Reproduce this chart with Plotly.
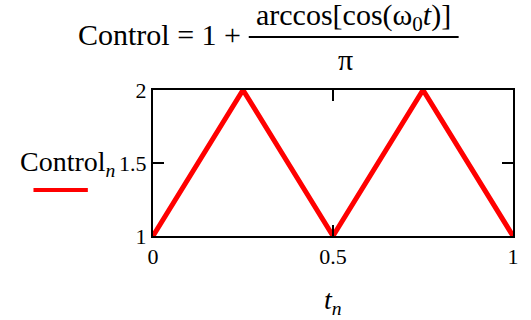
import plotly.graph_objects as go

# valores (onda triangular)
t_n = [0, 0.25, 0.5, 0.75, 1]
control_n = [1, 2, 1, 2, 1]

x_ticks = [0, 0.5, 1]
x_ticklabels = ["0", "0.5", "1"]
y_ticks = [1, 1.5, 2]
y_ticklabels = ["1", "1.5", "2"]

SERIF = "Liberation Serif"

fig = go.Figure()
fig.add_trace(go.Scatter(x=t_n, y=control_n, mode="lines",
                         line=dict(color="#ff0000", width=5),
                         showlegend=False, hoverinfo="skip"))

fig.update_layout(
    width=531, height=320,
    margin=dict(l=153, r=14, t=90, b=84),
    paper_bgcolor="white", plot_bgcolor="white",
    font=dict(family=SERIF, size=22, color="black"),
)

fig.update_xaxes(range=[0, 1], tickvals=x_ticks, ticktext=x_ticklabels,
                 showgrid=False, zeroline=False, showline=True, linecolor="black",
                 linewidth=2, mirror="ticks", ticks="inside", ticklen=11,
                 tickwidth=2, tickcolor="black", tickfont=dict(size=22))
fig.update_yaxes(range=[1, 2], tickvals=y_ticks, ticktext=y_ticklabels,
                 showgrid=False, zeroline=False, showline=True, linecolor="black",
                 linewidth=2, mirror="ticks", ticks="inside", ticklen=11,
                 tickwidth=2, tickcolor="black", tickfont=dict(size=22))

# título en forma de fracción
fig.add_annotation(text="Control = 1 +", xref="paper", yref="paper",
                   x=0.25, y=1.377, xanchor="right", yanchor="middle",
                   showarrow=False, font=dict(size=30))
fig.add_annotation(text="arccos[cos(ω<sub>0</sub><i>t</i>)]", xref="paper", yref="paper",
                   x=0.558, y=1.50, xanchor="center", yanchor="middle",
                   showarrow=False, font=dict(size=30))
fig.add_annotation(text="π", xref="paper", yref="paper",
                   x=0.535, y=1.212, xanchor="center", yanchor="middle",
                   showarrow=False, font=dict(size=30))
fig.add_shape(type="line", xref="paper", yref="paper",
              x0=0.266, x1=0.849, y0=1.363, y1=1.363,
              line=dict(color="black", width=2))

# etiqueta del eje y con muestra de línea
fig.add_annotation(text="Control<sub><i>n</i></sub>", xref="paper", yref="paper",
                   x=-0.374, y=0.5, xanchor="left", yanchor="middle",
                   showarrow=False, font=dict(size=28))
fig.add_shape(type="line", xref="paper", yref="paper",
              x0=-0.332, x1=-0.181, y0=0.315, y1=0.315,
              line=dict(color="#ff0000", width=4))

# etiqueta del eje x
fig.add_annotation(text="<i>t<sub>n</sub></i>", xref="paper", yref="paper",
                   x=0.5, y=-0.45, xanchor="center", yanchor="middle",
                   showarrow=False, font=dict(size=28))

fig.write_html("out.html", config={"displayModeBar": False},
               post_script="document.body.style.margin='0px';")
